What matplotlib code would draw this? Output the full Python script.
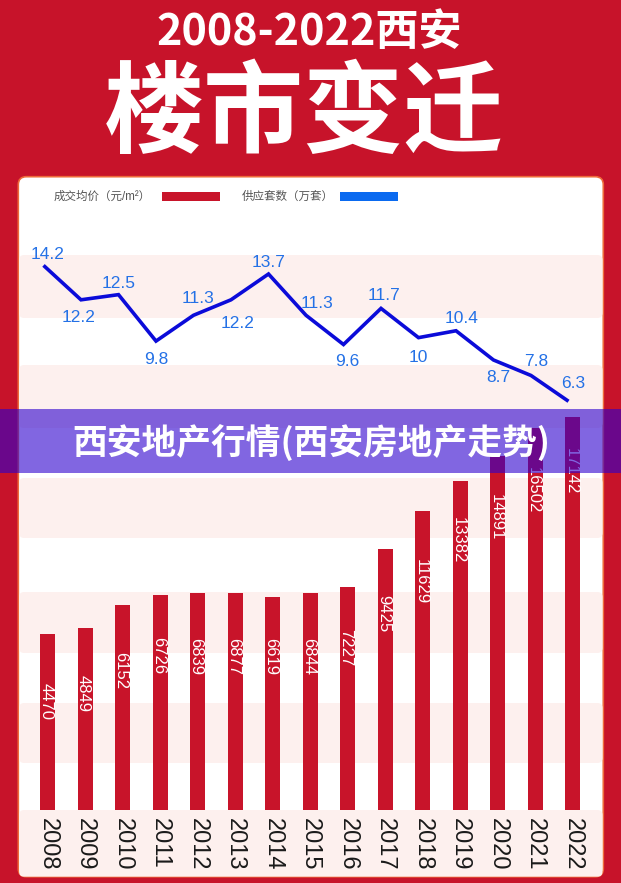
import matplotlib
matplotlib.use("Agg")
import matplotlib.pyplot as plt
from matplotlib.patches import FancyBboxPatch, Rectangle
from matplotlib.transforms import ScaledTranslation

plt.rcParams['font.family'] = ['Liberation Sans', 'Noto Sans CJK SC', 'DejaVu Sans']

# ---------------- data ----------------
years = ['2008', '2009', '2010', '2011', '2012', '2013', '2014', '2015',
         '2016', '2017', '2018', '2019', '2020', '2021', '2022']
price = [4470, 4849, 6152, 6726, 6839, 6877, 6619, 6844,
         7227, 9425, 11629, 13382, 14891, 16502, 17142]
supply = [14.2, 12.2, 12.5, 9.8, 11.3, 12.2, 13.7, 11.3,
          9.6, 11.7, 10, 10.4, 8.7, 7.8, 6.3]
title_top = '2008-2022西安'
title_main = '楼市变迁'
banner = '西安地产行情(西安房地产走势)'
legend_price = '成交均价（元/m²）'
legend_supply = '供应套数（万套）'

# ---------------- style ----------------
RED = '#C7132A'
BAR = '#C8142A'
PINK = '#FDF0EE'
LINE = '#0B0BD9'
LBL_BLUE = '#2471E6'
LEG_BLUE = '#0A6AF0'

W, H = 621, 883
fig = plt.figure(figsize=(W / 100, H / 100), dpi=100, facecolor=RED)

# background (pixel coordinates, origin top-left)
bg = fig.add_axes([0, 0, 1, 1], zorder=0)
bg.set_xlim(0, W); bg.set_ylim(H, 0); bg.axis('off')

PL, PR, PT, PB = 18.3, 603.3, 176.7, 876.7
bg.add_patch(FancyBboxPatch((PL, PT), PR - PL, PB - PT,
                            boxstyle='round,pad=0,rounding_size=8',
                            fc='white', ec='#EE6A3A', lw=1.2))
bands = [(255, 318), (365, 428), (478, 538), (592, 653), (703, 763), (810, PB)]
for top, bot in bands:
    bg.add_patch(FancyBboxPatch((PL + 0.8, top), PR - PL - 1.6, bot - top,
                                boxstyle='round,pad=0,rounding_size=5',
                                fc=PINK, ec='none'))

# legend
bg.text(54, 196.5, legend_price, fontsize=8.3, color='#555555', va='center', ha='left')
bg.add_patch(Rectangle((162.3, 191.7), 57.7, 9, fc=BAR, ec='none'))
bg.text(241.5, 196.5, legend_supply, fontsize=8.3, color='#555555', va='center', ha='left')
bg.add_patch(Rectangle((340, 191.7), 58.3, 9, fc=LEG_BLUE, ec='none'))

# ---------------- chart axes ----------------
AX_L, AX_R, AX_T, AX_B = PL, PR, PT, 810.0
ax = fig.add_axes([AX_L / W, (H - AX_B) / H, (AX_R - AX_L) / W, (AX_B - AX_T) / H], zorder=2)
ax.patch.set_alpha(0)
pitch = 37.5
first_center = 47.5
ax.set_xlim((AX_L - first_center) / pitch, (AX_R - first_center) / pitch)
px_per_unit = 0.017125
ylo = 4470 - (AX_B - 634) / px_per_unit
yhi = ylo + (AX_B - AX_T) / px_per_unit
ax.set_ylim(ylo, yhi)
for s in ax.spines.values():
    s.set_visible(False)
ax.set_yticks([])

idx = list(range(len(years)))
ax.bar(idx, [p - ylo for p in price], bottom=ylo, width=15 / pitch, color=BAR, zorder=2)

label_gap = [49, 47, 47, 42, 45, 45, 41, 45, 42, 46, 48, 36, 38, 39, 31]
for i, p in enumerate(price):
    ax.annotate(str(p), (i, p), xytext=(0, -label_gap[i]), textcoords='offset pixels',
                rotation=-90, rotation_mode='anchor', ha='left', va='center_baseline',
                color='white', fontsize=12, zorder=3)

ax.set_xticks(idx)
ax.set_xticklabels(years, rotation=-90, fontsize=17, color='#1a1a1a')
ax.tick_params(axis='x', length=0, pad=5.5)

# line on twin axis
ax2 = ax.twinx()
ax2.set_zorder(3)
ax2.patch.set_alpha(0)
line_px = 17.2
l_lo = 13.7 - (AX_B - 274) / line_px
l_hi = 13.7 + (274 - AX_T) / line_px
ax2.set_ylim(l_lo, l_hi)
ax2.set_yticks([])
for s in ax2.spines.values():
    s.set_visible(False)
shift = ax2.transData + ScaledTranslation(-4 / 100, 0, fig.dpi_scale_trans)
ax2.plot(idx, supply, color=LINE, lw=2.6, transform=shift, solid_joinstyle='miter',
         solid_capstyle='butt')

lbl_off = [(4, -12), (-2, 16), (0, -13), (0, 17), (4, -18), (7, 22), (0, -13), (11, -13),
           (4, 15), (3, -14), (0, 18), (6, -14), (5, 16), (5, -15), (5, -19)]
for i, v in enumerate(supply):
    dx, dy = lbl_off[i]
    ax2.annotate(f'{v:g}', (i, v), xycoords=shift, xytext=(dx, -dy),
                 textcoords='offset pixels', ha='center', va='center_baseline',
                 color=LBL_BLUE, fontsize=12.5)

# ---------------- foreground: titles and banner ----------------
fg = fig.add_axes([0, 0, 1, 1], zorder=5)
fg.set_xlim(0, W); fg.set_ylim(H, 0); fg.axis('off')
fg.patch.set_alpha(0)

fg.text(309, 32, title_top, fontsize=31, color='white', fontweight='heavy',
        family=['Noto Sans CJK SC'], ha='center', va='center')
fg.text(304, 116, title_main, fontsize=72, color='white', fontweight='heavy',
        family=['Noto Sans CJK SC'], ha='center', va='center')

fg.add_patch(Rectangle((0, 409), W, 64, fc=(45 / 255, 0, 205 / 255), alpha=0.6, ec='none'))
fg.text(311, 443, banner, fontsize=25, color='white', fontweight='bold',
        family=['Noto Sans CJK SC'], ha='center', va='center')

fig.savefig('out.png', dpi=100, facecolor=RED)
